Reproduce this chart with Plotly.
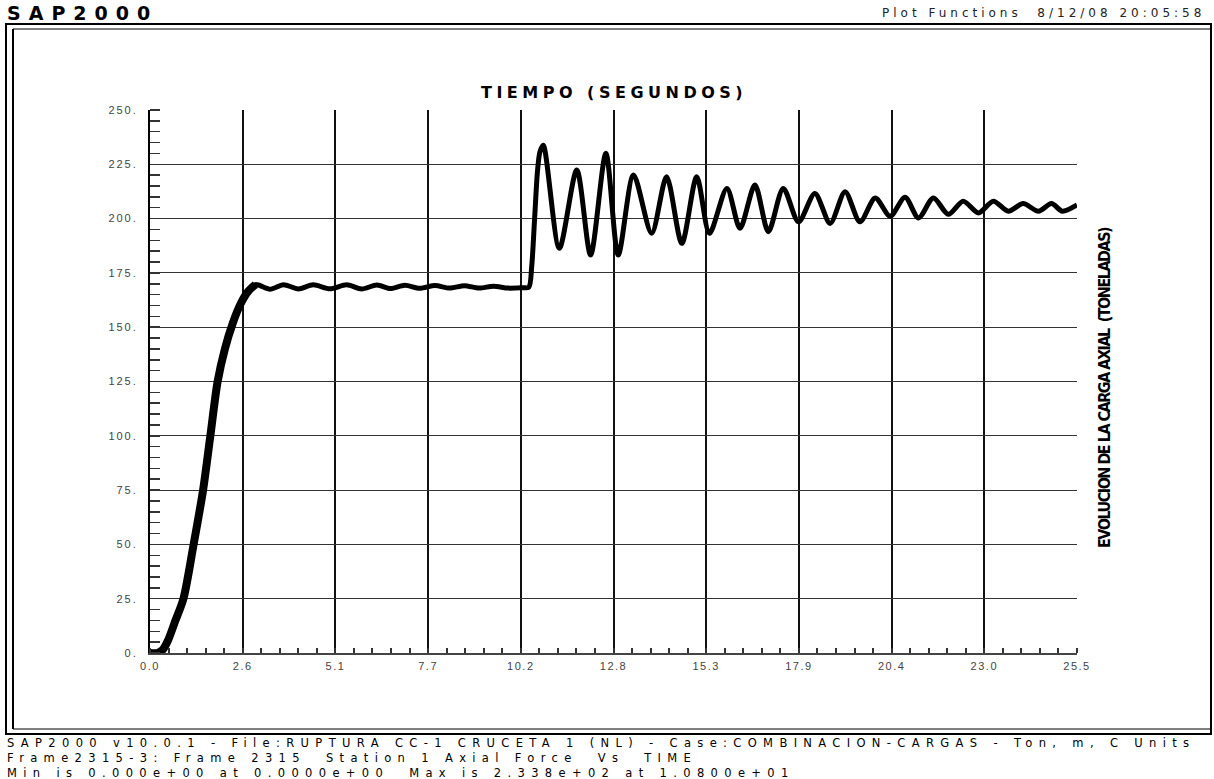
import plotly.graph_objects as go

# ---------------- data ----------------
time_s = [0.0, 0.2, 0.35, 0.5, 0.7, 0.92, 1.2, 1.46, 1.66, 1.86, 2.06, 2.28, 2.5, 2.7, 2.9,
          3.3, 3.67, 4.08, 4.49, 4.95, 5.41, 5.82, 6.24, 6.62, 7.01, 7.42, 7.84, 8.24, 8.65, 9.05, 9.45,
          9.85, 10.25, 10.42,
          10.5, 10.58, 10.66, 10.73, 10.82,
          11.26, 11.74, 12.12, 12.54, 12.88, 13.30, 13.80, 14.21, 14.63, 15.04, 15.39, 15.87, 16.23,
          16.64, 17.01, 17.42, 17.84, 18.29, 18.71, 19.12, 19.53, 19.95, 20.36, 20.77, 21.14, 21.55,
          21.96, 22.37, 22.79, 23.2, 23.61, 24.02, 24.44, 24.8, 25.1, 25.5]
axial_force = [0, 0, 1.5, 6, 15, 25, 50, 75, 100, 125, 140, 152, 161, 166.5, 169.6,
               167.5, 169.6, 167.6, 169.5, 167.7, 169.5, 167.6, 169.4, 167.8, 169.3, 167.9, 169.2,
               168.0, 169.1, 168.0, 168.9, 168.0, 168.2, 168.4,
               178, 200, 222, 231, 233.8,
               186.3, 222.4, 183.2, 230.1, 183.2, 220.1, 193.2, 219.3, 188.6, 219.3, 193.2, 213.9,
               195.5, 215.5, 194.0, 213.9, 198.5, 211.6, 197.8, 212.4, 198.5, 209.5, 201.1, 209.8,
               200.3, 209.5, 202.0, 208.0, 202.6, 208.0, 203.4, 206.9, 203.4, 206.9, 203.4, 206.3]
rise_points = 15  # loading ramp (drawn with the heavier pen, as in the original)

x_tick_vals = [0, 2.55, 5.1, 7.65, 10.2, 12.75, 15.3, 17.85, 20.4, 22.95, 25.5]
x_tick_text = ["0.0", "2.6", "5.1", "7.7", "10.2", "12.8", "15.3", "17.9", "20.4", "23.0", "25.5"]
y_tick_vals = [0, 25, 50, 75, 100, 125, 150, 175, 200, 225, 250]
y_tick_text = ["0.", "25.", "50.", "75.", "100.", "125.", "150.", "175.", "200.", "225.", "250."]

title_text = "TIEMPO (SEGUNDOS)"
right_text = "EVOLUCION DE LA CARGA AXIAL\u00a0\u00a0(TONELADAS)"
header_left = "SAP2000"
header_right = "Plot Functions\u00a0\u00a08/12/08 20:05:58"
footer_lines = [
    "SAP2000 v10.0.1 - File:RUPTURA CC-1 CRUCETA 1 (NL) - Case:COMBINACION-CARGAS - Ton, m, C Units",
    "Frame2315-3: Frame 2315\u00a0\u00a0Station 1 Axial Force\u00a0\u00a0Vs\u00a0\u00a0TIME",
    "Min is 0.000e+00 at 0.0000e+00\u00a0\u00a0Max is 2.338e+02 at 1.0800e+01",
]

# ---------------- layout geometry ----------------
W, H = 1214, 779
PL, PR, PT, PB = 150, 1077, 110, 653


def fx(p):
    return (p - PL) / (PR - PL)


def fy(p):
    return (PB - p) / (PB - PT)


def spaced(text, ls):
    return f'<span style="letter-spacing:{ls}px">{text}</span>'


fig = go.Figure()
fig.add_trace(go.Scatter(
    x=time_s, y=axial_force, mode="lines",
    line=dict(color="black", width=5, shape="spline", smoothing=0.8),
    hoverinfo="skip",
))
fig.add_trace(go.Scatter(
    x=time_s[:rise_points], y=axial_force[:rise_points], mode="lines",
    line=dict(color="black", width=8, shape="spline", smoothing=0.8),
    hoverinfo="skip",
))

tick_font = dict(family="Liberation Sans, Arial, sans-serif", size=11, color="#444")

fig.update_layout(
    width=W, height=H,
    margin=dict(l=PL, r=W - PR, t=PT, b=H - PB, pad=0),
    paper_bgcolor="white", plot_bgcolor="white",
    showlegend=False,
    xaxis=dict(
        range=[0, 25.5], tickmode="array", tickvals=x_tick_vals,
        ticktext=[spaced(t, 1.5) for t in x_tick_text],
        showgrid=True, gridcolor="#111", gridwidth=2,
        showline=True, linecolor="#444", linewidth=2,
        ticks="", zeroline=False, tickfont=tick_font, ticklabelstandoff=2,
        minor=dict(tickmode="linear", tick0=0, dtick=0.51, ticks="inside", ticklen=5,
                   tickcolor="#333", tickwidth=2, showgrid=False),
        fixedrange=True,
    ),
    yaxis=dict(
        range=[0, 250], tickmode="array", tickvals=y_tick_vals,
        ticktext=[spaced(t, 2) for t in y_tick_text],
        showgrid=True, gridcolor="#333", gridwidth=1,
        showline=True, linecolor="black", linewidth=2,
        ticks="", zeroline=False, tickfont=tick_font, ticklabelstandoff=8,
        minor=dict(tickmode="linear", tick0=0, dtick=5, ticks="inside", ticklen=10,
                   tickcolor="#333", tickwidth=1.5, showgrid=False),
        fixedrange=True,
    ),
)

footer_text = "<br>".join(spaced(line, 6.35) for line in footer_lines)

annotations = [
    dict(x=fx(5), y=fy(13), text=f"<b>{spaced(header_left, 8)}</b>", xanchor="left", yanchor="middle",
         font=dict(family="DejaVu Sans, sans-serif", size=19, color="black")),
    dict(x=fx(1207), y=fy(13), text=spaced(header_right, 4), xanchor="right", yanchor="middle",
         font=dict(family="DejaVu Sans, sans-serif", size=12, color="#222")),
    dict(x=fx(614), y=fy(92), text=f"<b>{spaced(title_text, 4.5)}</b>", xanchor="center", yanchor="middle",
         font=dict(family="DejaVu Sans, sans-serif", size=16, color="black")),
    dict(x=fx(1104), y=fy(388), text=f"<b>{spaced(right_text, -1.5)}</b>", textangle=-90,
         xanchor="center", yanchor="middle",
         font=dict(family="Liberation Sans Narrow, DejaVu Sans Condensed, sans-serif", size=16, color="black")),
    dict(x=fx(5), y=fy(758), text=footer_text, xanchor="left", yanchor="middle", align="left",
         font=dict(family="DejaVu Sans, sans-serif", size=11.5, color="black")),
]
for a in annotations:
    a.update(xref="paper", yref="paper", showarrow=False)
fig.update_layout(annotations=annotations)

shapes = [
    dict(type="rect", x0=fx(6), x1=fx(1211), y0=fy(24), y1=fy(734), line=dict(color="black", width=2)),
    dict(type="line", x0=fx(13), x1=fx(13), y0=fy(29), y1=fy(729), line=dict(color="black", width=2)),
    dict(type="line", x0=fx(13), x1=fx(1211), y0=fy(29), y1=fy(29), line=dict(color="black", width=1)),
    dict(type="line", x0=fx(13), x1=fx(1211), y0=fy(729), y1=fy(729), line=dict(color="black", width=1)),
]
for s in shapes:
    s.update(xref="paper", yref="paper", layer="above")
fig.update_layout(shapes=shapes)

fig.write_html("out.html", config={"staticPlot": True},
              post_script="document.body.style.margin='0';")
